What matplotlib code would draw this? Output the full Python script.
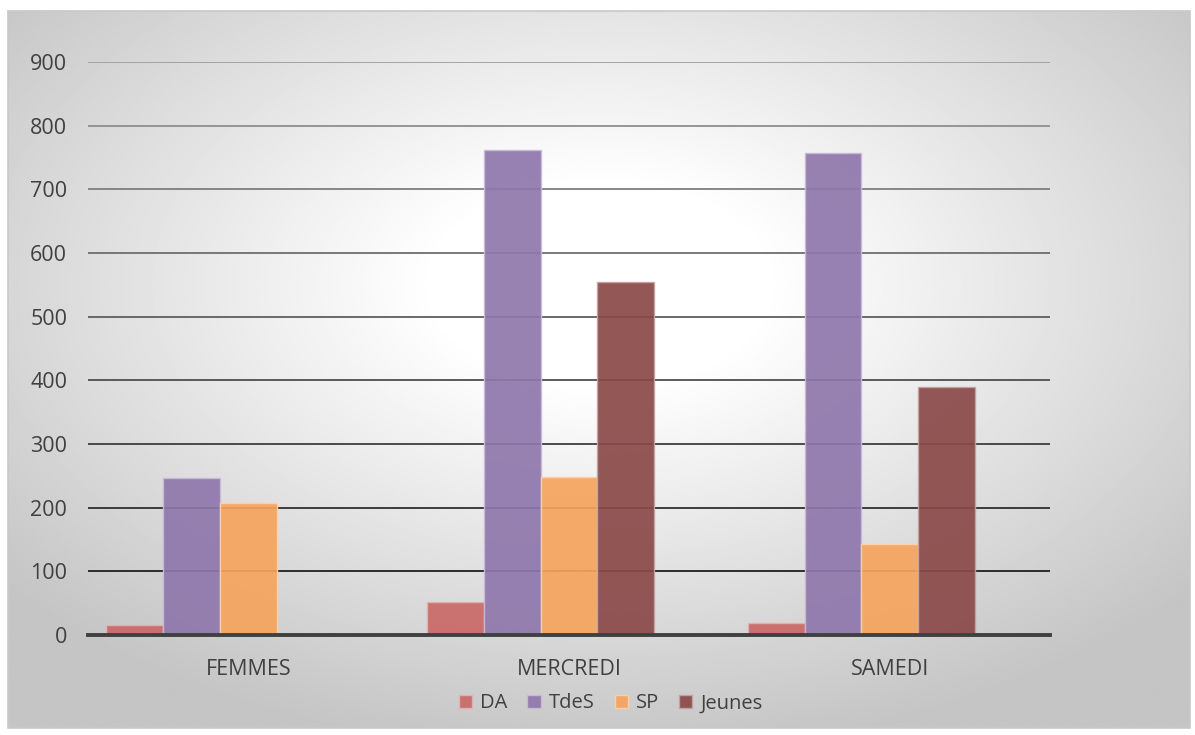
import matplotlib.pyplot as plt
import numpy as np

categories = ["FEMMES", "MERCREDI", "SAMEDI"]
series_names = ["DA", "TdeS", "SP", "Jeunes"]
da = [16, 52, 19]
tdes = [246, 762, 757]
sp = [207, 248, 143]
jeunes = [0, 555, 390]
yticks = [0, 100, 200, 300, 400, 500, 600, 700, 800, 900]

colors = ["#c96967", "#8e77ac", "#f6a45e", "#8a4948"]
edges = ["#e3b3b2", "#c7bbd6", "#fbd2ae", "#c4a3a3"]

plt.rcParams["font.family"] = ["Open Sans", "DejaVu Sans"]

fig = plt.figure(figsize=(11.95, 7.35), dpi=100)
fig.patch.set_facecolor("white")

# fond en dégradé radial dans le cadre
bg = fig.add_axes([8/1195, 1-728/735, 1182/1195, 717/735])
bg.set_axis_off()
h, w = 360, 600
yy, xx = np.mgrid[0:h, 0:w]
cx, cy = 0.5*w, 0.38*h
d = np.sqrt(((xx-cx)/w)**2 + ((yy-cy)/h)**2)
val = 1 - 0.23*np.clip((d-0.14)/0.52, 0, 1)
bg.imshow(val, cmap="gray", vmin=0, vmax=1, aspect="auto",
          extent=[0, 1, 0, 1], origin="upper", interpolation="bilinear")
bg.set_xlim(0, 1)
bg.set_ylim(0, 1)
bg.add_patch(plt.Rectangle((0, 0), 1, 1, fill=False, ec="#c8c8c8", lw=1.2,
                           transform=bg.transAxes, clip_on=False))

ax = fig.add_axes([88/1195, 1-635/735, 962/1195, 573/735])
ax.patch.set_alpha(0)
ax.set_xlim(-0.5, 2.5)
ax.set_ylim(0, 900)

# lignes de grille, plus sombres vers le bas
for i, t in enumerate(yticks[1:]):
    g = 0.12 + 0.5*i/8
    ax.axhline(t, color=(g, g, g), lw=1.3, zorder=1)

x = np.arange(len(categories))
bw = 0.177
vals = [da, tdes, sp, jeunes]
for i in range(4):
    ax.bar(x + (i-2)*bw, vals[i], width=bw, color=colors[i], alpha=0.92,
           edgecolor=edges[i], linewidth=1, label=series_names[i], zorder=2)

for s in ["top", "right", "left"]:
    ax.spines[s].set_visible(False)
ax.spines["bottom"].set_color("#404040")
ax.spines["bottom"].set_linewidth(2.8)
ax.spines["bottom"].set_zorder(3)

ax.set_yticks(yticks)
ax.set_xticks(x)
ax.set_xticklabels(categories)
ax.tick_params(axis="both", length=0, labelsize=15.5, labelcolor="#404040")
ax.tick_params(axis="y", pad=15)
ax.tick_params(axis="x", pad=17)

leg = fig.legend(loc="center", bbox_to_anchor=(0.511, 0.043), ncol=4,
                 frameon=False, fontsize=14.5, handlelength=0.65,
                 handleheight=0.65, handletextpad=0.4, columnspacing=1.0)
for t in leg.get_texts():
    t.set_color("#404040")

fig.savefig("out.png", dpi=100)
